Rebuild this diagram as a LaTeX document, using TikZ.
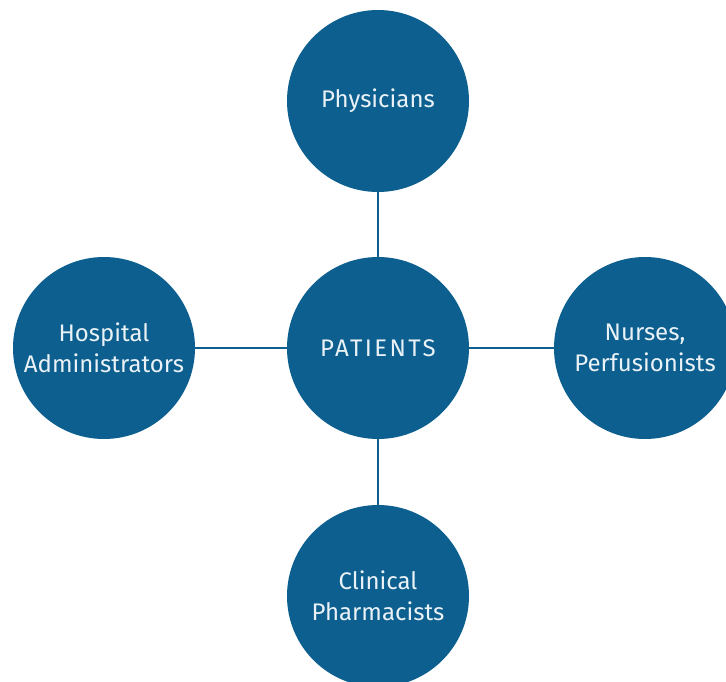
\documentclass[tikz,border=0pt]{standalone}
\usepackage{fontspec}
\setmainfont{Fira Sans}
\newfontfamily\widecaps[LetterSpace=10]{Fira Sans}
\definecolor{hub}{HTML}{0C5F8E}
\definecolor{labeltext}{HTML}{EAF2F7}
\begin{document}
\begin{tikzpicture}[x=1pt,y=-1pt,
  role/.style={circle, fill=hub, minimum size=182pt, inner sep=0pt,
    text=labeltext, align=center,
    font=\fontsize{24}{31}\selectfont},
  link/.style={draw=hub, line width=2pt}]
\useasboundingbox (0,0) rectangle (726,682);
\clip (0,0) rectangle (726,682);
\node[role] (pat)  at (378,348) {\widecaps PATIENTS};
\node[role] (phys) at (378,101) {Physicians};
\node[role] (adm)  at (104,348) {Hospital\\Administrators};
\node[role] (nur)  at (645,348) {Nurses,\\Perfusionists};
\node[role] (pha)  at (378,596) {Clinical\\Pharmacists};
\draw[link] (pat) -- (phys);
\draw[link] (pat) -- (adm);
\draw[link] (pat) -- (nur);
\draw[link] (pat) -- (pha);
\end{tikzpicture}
\end{document}
